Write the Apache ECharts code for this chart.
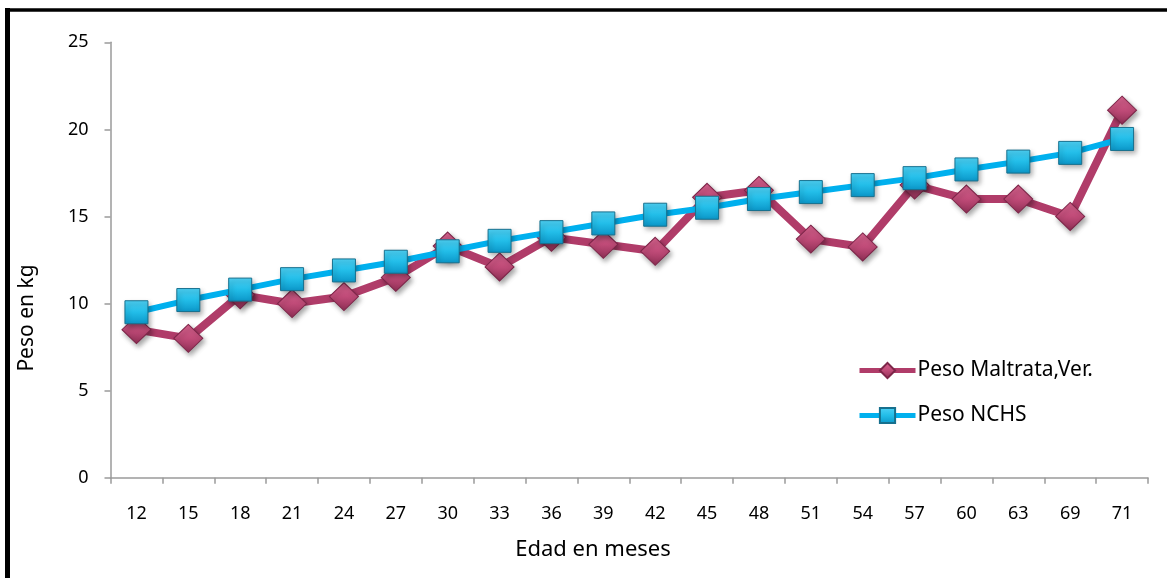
<!DOCTYPE html>
<html>
<head>
<meta charset="utf-8">
<script src="https://cdn.jsdelivr.net/npm/echarts@6/dist/echarts.min.js"></script>
<style>
html,body{margin:0;padding:0;background:#fff;}
#chart{width:1167px;height:578px;}
</style>
</head>
<body>
<div id="chart"></div>
<script>
const categories = ['12','15','18','21','24','27','30','33','36','39','42','45','48','51','54','57','60','63','69','71'];
const pesoMaltrata = [8.5, 8.0, 10.5, 10.0, 10.4, 11.5, 13.3, 12.1, 13.8, 13.4, 13.0, 16.1, 16.5, 13.7, 13.25, 16.8, 16.0, 16.0, 15.0, 21.1];
const pesoNCHS = [9.5, 10.2, 10.8, 11.4, 11.9, 12.4, 13.0, 13.6, 14.1, 14.6, 15.1, 15.5, 16.0, 16.4, 16.8, 17.2, 17.7, 18.15, 18.65, 19.45];
const seriesNames = ['Peso Maltrata,Ver.', 'Peso NCHS'];
const yTitle = 'Peso en kg';
const xTitle = 'Edad en meses';

const FONT = '"Noto Sans", sans-serif';
const chart = echarts.init(document.getElementById('chart'), null, {renderer: 'canvas'});

const diamondFill = new echarts.graphic.LinearGradient(0, 0, 0, 1, [
  {offset: 0, color: '#d8648f'},
  {offset: 0.5, color: '#c04b78'},
  {offset: 1, color: '#8f2f55'}
]);
const squareFill = new echarts.graphic.LinearGradient(0, 0, 0, 1, [
  {offset: 0, color: '#4fd3f7'},
  {offset: 0.5, color: '#22bde8'},
  {offset: 1, color: '#0b96c8'}
]);

chart.setOption({
  animation: false,
  backgroundColor: '#ffffff',
  grid: {left: 110.5, right: 19, top: 42.3, bottom: 100.3, containLabel: false},
  legend: {
    orient: 'vertical',
    left: 852,
    top: 355,
    itemWidth: 56,
    itemHeight: 19,
    itemGap: 24,
    lineStyle: {width: 5},
    textStyle: {fontFamily: FONT, fontSize: 21, color: '#000', padding: [0,0,0,-3]},
    data: seriesNames
  },
  xAxis: {
    type: 'category',
    data: categories,
    boundaryGap: true,
    axisLine: {lineStyle: {color: '#9a9a9a', width: 1.5}},
    axisTick: {show: true, length: 6, lineStyle: {color: '#9a9a9a', width: 1.5}},
    axisLabel: {fontFamily: FONT, fontSize: 18, color: '#000', margin: 27},
    splitLine: {show: false}
  },
  yAxis: {
    type: 'value',
    min: 0,
    max: 25,
    interval: 5,
    axisLine: {show: true, lineStyle: {color: '#9a9a9a', width: 1.5}},
    axisTick: {show: true, length: 6, lineStyle: {color: '#9a9a9a', width: 1.5}},
    axisLabel: {fontFamily: FONT, fontSize: 18, color: '#000', margin: 22},
    splitLine: {show: false}
  },
  graphic: [
    {type: 'line', shape: {x1: 7.5, y1: 8, x2: 7.5, y2: 600}, style: {stroke: '#000', lineWidth: 5}, silent: true},
    {type: 'line', shape: {x1: 5, y1: 10, x2: 1200, y2: 10}, style: {stroke: '#000', lineWidth: 3.5}, silent: true},
    {type: 'text', x: 593, y: 550, style: {text: xTitle, fontFamily: FONT, fontSize: 22, fill: '#000', align: 'center', verticalAlign: 'middle'}},
    {type: 'text', x: 27, y: 318, rotation: Math.PI/2, style: {text: yTitle, fontFamily: FONT, fontSize: 21, fill: '#000', align: 'center', verticalAlign: 'middle'}}
  ],
  series: [
    {
      name: seriesNames[0],
      type: 'line',
      data: pesoMaltrata,
      symbol: 'diamond',
      symbolSize: [29, 28],
      lineStyle: {color: '#b03c69', width: 8},
      itemStyle: {color: diamondFill, borderColor: '#7d2649', borderWidth: 1,
        shadowBlur: 5, shadowColor: 'rgba(0,0,0,0.35)', shadowOffsetX: 2, shadowOffsetY: 3},
      z: 2
    },
    {
      name: seriesNames[1],
      type: 'line',
      data: pesoNCHS,
      symbol: 'rect',
      symbolSize: 23,
      lineStyle: {color: '#00b0ee', width: 6},
      itemStyle: {color: squareFill, borderColor: '#17708e', borderWidth: 1,
        shadowBlur: 5, shadowColor: 'rgba(0,0,0,0.35)', shadowOffsetX: 2, shadowOffsetY: 3},
      z: 3
    }
  ]
});
</script>
</body>
</html>
